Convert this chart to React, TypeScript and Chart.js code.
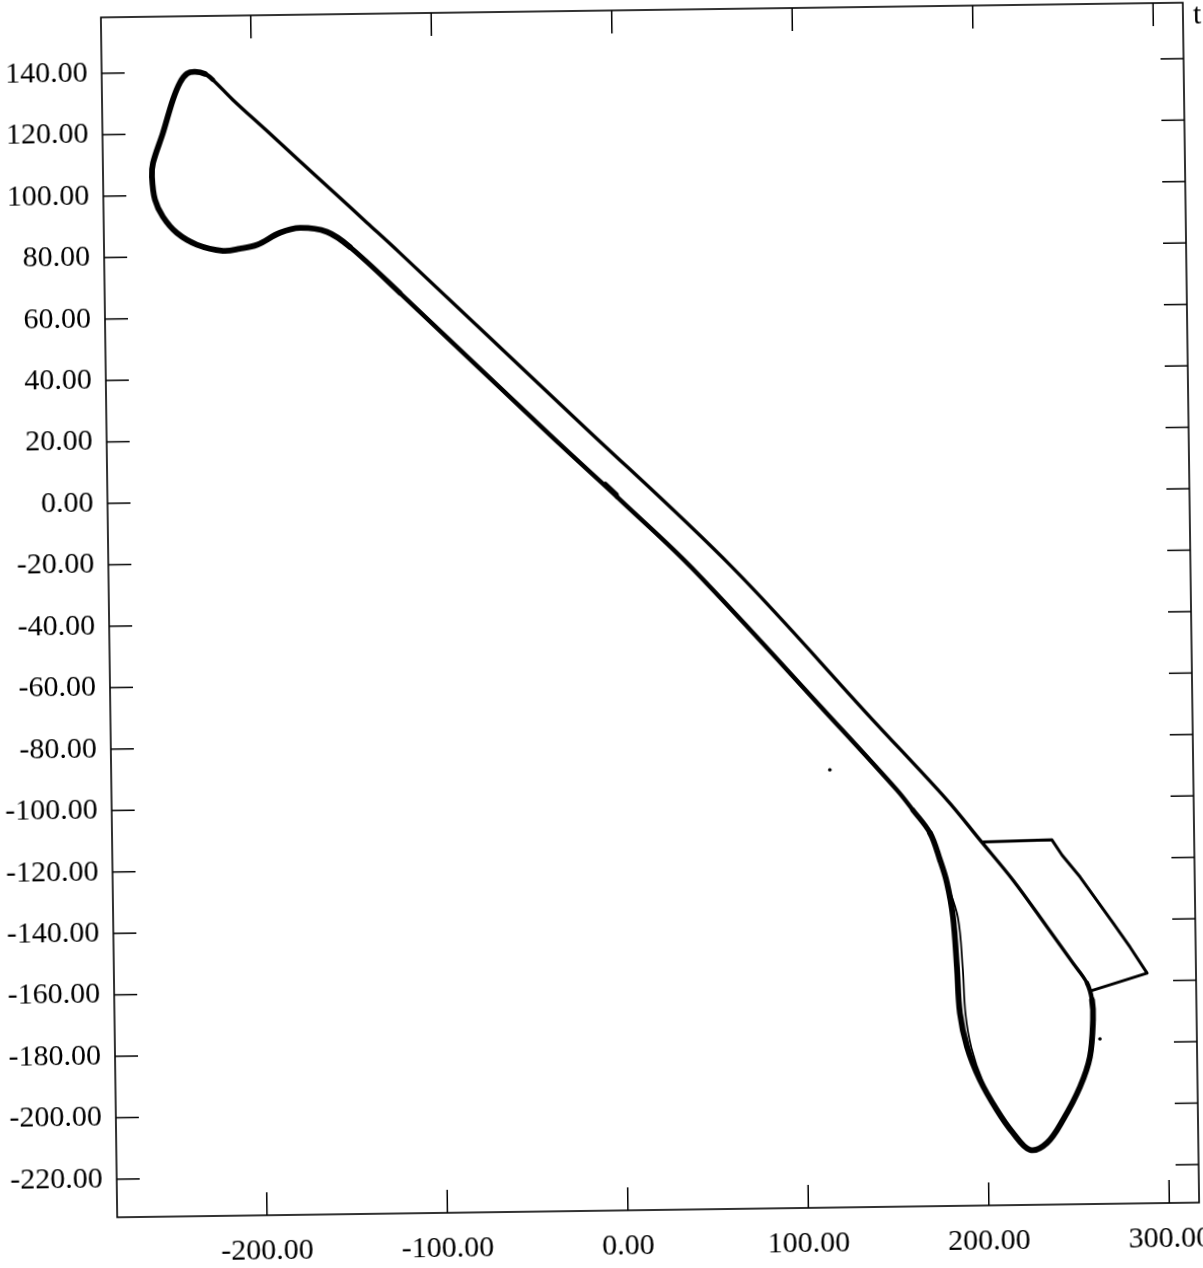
import React, { useEffect, useRef } from "react";
import { Chart, registerables } from "chart.js";

Chart.register(...registerables);

// Axis ticks
const xTicks = [-200, -100, 0, 100, 200, 300];
const yTicks = [140, 120, 100, 80, 60, 40, 20, 0, -20, -40, -60, -80, -100, -120, -140, -160, -180, -200, -220];

// One closed lap, starting at the start mark on the lower straight:
// lower straight -> upper-left loop -> apex -> upper straight -> lower-right hairpin -> lower straight
const trackX = [
  -0.7, -37.3, -119.4, -146.8, -159.4, -174.3, -185.4, -198.2, -207.7, -217.1,
  -231.5, -242.5, -250.1, -254.4, -255.9, -255.2, -249.5, -243.7, -239.7, -235.7,
  -231.3, -225.8, -221.4, -210.5, -191.8, -173.7, -155.7, -137.1, -119.1, -22.3,
  63.0, 139.4, 179.8, 197.8, 215.8, 234.3, 248.4, 256.0, 258.7, 259.1,
  257.1, 251.4, 241.7, 232.7, 223.2, 213.9, 205.2, 196.0, 189.1, 185.4,
  184.1, 182.3, 179.2, 175.5, 170.2, 160.9, 152.2, 117.3, 40.3, -0.7,
];
const trackY = [
  -0.1, 20.3, 67.2, 82.4, 87.4, 88.8, 87.3, 83.5, 82.3, 81.7,
  83.8, 87.7, 93.0, 98.6, 106.1, 110.6, 120.3, 131.1, 136.6, 139.5,
  140.1, 139.4, 137.4, 130.8, 120.5, 110.4, 100.5, 90.2, 80.2, 25.1,
  -23.8, -73.9, -100.2, -113.4, -126.6, -142.0, -153.9, -160.4, -166.0, -172.5,
  -184.5, -194.2, -204.9, -212.3, -214.5, -208.9, -201.4, -191.5, -180.7, -169.6,
  -154.7, -138.3, -127.2, -119.7, -110.9, -103.4, -96.8, -73.7, -23.6, -0.1,
];

// Second lap trace on the inside of the lower-right hairpin
const innerX = [179.2, 185.0, 187.3, 188.5, 191.5, 197.5, 205.2];
const innerY = [-127.2, -138.5, -155.0, -170.0, -181.0, -192.0, -201.4];

// Detour polyline by the lower-right hairpin
const pitX = [199.4, 237.7, 243.2, 253.0, 270.9, 280.1, 289.4, 257.6];
const pitY = [-114.1, -113.7, -118.7, -125.9, -141.0, -148.9, -157.5, -163.1];

// Start mark and isolated dots
const markX = [-7.0, -1.0];
const markY = [4.0, 0.6];
const dotX = [115.2, 262.8];
const dotY = [-89.9, -178.7];

const X_MIN = -283;
const X_MAX = 316.5;
const Y_MIN = -232.4;
const Y_MAX = 158.2;

// index ranges of the lap (by first point of a segment)
const UPPER_STRAIGHT = [22, 36];
const LOWER_STRAIGHT_A = [0, 1];
const LOWER_STRAIGHT_B = [55, 58];
const TRANSITION_THIN = [21, 37];
const TRANSITION_MID = [2, 54];

const toPts = (xs: number[], ys: number[]) => xs.map((x, i) => ({ x, y: ys[i] }));
const inRange = (i: number, r: number[]) => i >= r[0] && i <= r[1];

const frameTicks = {
  id: "frameTicks",
  afterDraw(chart: any) {
    const { ctx, chartArea: a, scales } = chart;
    ctx.save();
    ctx.strokeStyle = "#000";
    ctx.lineWidth = 1.6;
    ctx.strokeRect(a.left, a.top, a.right - a.left, a.bottom - a.top);
    ctx.lineWidth = 1.5;
    const L = 23;
    const seg = (x1: number, y1: number, x2: number, y2: number) => {
      ctx.beginPath();
      ctx.moveTo(x1, y1);
      ctx.lineTo(x2, y2);
      ctx.stroke();
    };
    for (const v of xTicks) {
      const p = scales.x.getPixelForValue(v);
      seg(p, a.bottom, p, a.bottom - L);
      seg(p, a.top, p, a.top + L);
    }
    for (const v of yTicks) {
      const p = scales.y.getPixelForValue(v);
      seg(a.left, p, a.left + L, p);
      seg(a.right, p, a.right - L, p);
    }
    ctx.fillStyle = "#000";
    ctx.font = '30px "Liberation Serif"';
    ctx.textAlign = "left";
    ctx.textBaseline = "alphabetic";
    ctx.fillText("t", 1201, 31);
    ctx.restore();
  },
};

export default function App() {
  const ref = useRef<HTMLCanvasElement>(null);

  useEffect(() => {
    if (!ref.current) return;
    const font = { family: '"Liberation Serif", "Times New Roman", serif', size: 30 };
    const lineDs = (data: any, width: number, tension: number) => ({
      data,
      showLine: true,
      borderColor: "#000",
      backgroundColor: "#000",
      borderWidth: width,
      pointRadius: 0,
      tension,
      borderCapStyle: "round",
      borderJoinStyle: "round",
    });
    const chart = new Chart(ref.current, {
      type: "scatter",
      data: {
        datasets: [
          {
            ...lineDs(toPts(trackX, trackY), 5.8, 0.35),
            segment: {
              borderWidth: (c: any) => {
                const i = c.p0DataIndex;
                if (inRange(i, UPPER_STRAIGHT)) return 3.4;
                if (TRANSITION_THIN.includes(i)) return 4.5;
                if (inRange(i, LOWER_STRAIGHT_A) || inRange(i, LOWER_STRAIGHT_B)) return 4.4;
                if (TRANSITION_MID.includes(i)) return 5.1;
                return 5.8;
              },
            },
          },
          lineDs(toPts(innerX, innerY), 1.8, 0.35),
          lineDs(toPts(pitX, pitY), 3, 0),
          lineDs(toPts(markX, markY), 5, 0),
          {
            data: toPts(dotX, dotY),
            showLine: false,
            pointRadius: 1.8,
            pointBackgroundColor: "#000",
            pointBorderWidth: 0,
          },
        ] as any,
      },
      options: {
        animation: false,
        responsive: false,
        devicePixelRatio: 1,
        layout: { padding: { left: 0, top: 10, right: 49, bottom: 0 } },
        plugins: { legend: { display: false }, tooltip: { enabled: false } },
        scales: {
          x: {
            type: "linear",
            min: X_MIN,
            max: X_MAX,
            grid: { display: false, drawTicks: false },
            border: { display: false },
            afterBuildTicks: (axis: any) => {
              axis.ticks = xTicks.map((value) => ({ value }));
            },
            afterFit: (axis: any) => {
              axis.height = 80;
              axis.paddingLeft = 0;
              axis.paddingRight = 0;
            },
            ticks: {
              autoSkip: false,
              maxRotation: 0,
              minRotation: 0,
              padding: 18,
              color: "#000",
              font,
              callback: (v: any) => Number(v).toFixed(2),
            },
          },
          y: {
            type: "linear",
            min: Y_MIN,
            max: Y_MAX,
            grid: { display: false, drawTicks: false },
            border: { display: false },
            afterBuildTicks: (axis: any) => {
              axis.ticks = yTicks.map((value) => ({ value }));
            },
            afterFit: (axis: any) => {
              axis.width = 109;
              axis.paddingTop = 0;
              axis.paddingBottom = 0;
            },
            ticks: {
              autoSkip: false,
              padding: 14,
              color: "#000",
              font,
              callback: (v: any) => Number(v).toFixed(2),
            },
          },
        },
      } as any,
      plugins: [frameTicks],
    });
    return () => chart.destroy();
  }, []);

  return (
    <div
      style={{
        position: "absolute",
        left: 0,
        top: 0,
        width: 1203,
        height: 1268,
        overflow: "hidden",
        background: "#fff",
      }}
    >
      <canvas
        ref={ref}
        width={1240}
        height={1290}
        style={{
          display: "block",
          width: 1240,
          height: 1290,
          transform: "rotate(-0.78deg)",
          transformOrigin: "650px 610px",
        }}
      />
    </div>
  );
}
